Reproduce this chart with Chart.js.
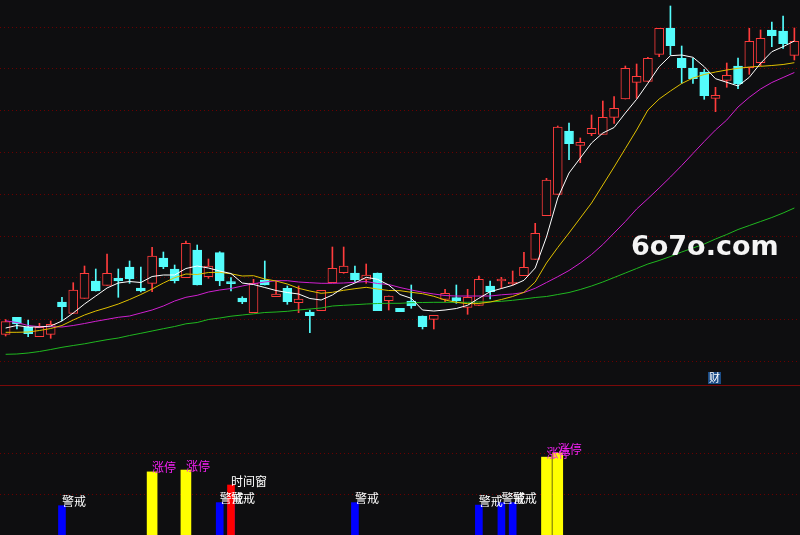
<!DOCTYPE html>
<html>
<head>
<meta charset="utf-8">
<script src="https://cdn.jsdelivr.net/npm/chart.js@4.4.0/dist/chart.umd.min.js"></script>
<style>
  body { margin: 0; background: #0e0e10; }
  #wrap { position: relative; width: 800px; height: 535px; overflow: hidden; }
  #priceChart { position: absolute; left: 0; top: 0; }
  #signalChart { position: absolute; left: 0; top: 385px; }
</style>
</head>
<body>
<div id="wrap">
  <canvas id="priceChart" width="800" height="385"></canvas>
  <canvas id="signalChart" width="800" height="150"></canvas>
</div>
<script>
// Daily candles (price units)
const candleOpen = [
  6.57, 8.27, 7.27, 6.33, 6.57, 9.80, 8.67, 10.17, 11.90, 11.47,
  12.17, 13.30, 11.20, 11.67, 14.20, 13.10, 12.23, 15.00, 12.33, 14.73,
  11.83, 10.20, 8.73, 12.00, 10.33, 11.17, 9.73, 8.80, 8.93, 11.73,
  12.73, 12.70, 12.07, 12.70, 9.93, 9.17, 9.90, 8.40, 8.07, 10.07,
  10.23, 9.27, 9.47, 11.40, 11.90, 11.63, 12.43, 14.07, 18.43, 20.57,
  26.90, 25.47, 26.63, 26.57, 28.27, 30.10, 31.77, 31.87, 34.57, 37.20,
  34.17, 33.20, 32.80, 30.17, 31.97, 33.40, 33.23, 33.73, 37.00, 36.90,
  34.47
];
const candleHigh = [
  8.05, 8.27, 8.00, 7.67, 7.90, 10.27, 11.73, 13.40, 13.10, 14.60,
  13.10, 13.90, 13.30, 15.27, 14.80, 13.50, 15.90, 15.50, 14.10, 14.83,
  12.23, 10.33, 12.07, 13.90, 11.83, 11.40, 11.40, 9.00, 10.97, 15.30,
  15.30, 13.40, 13.60, 12.70, 10.40, 9.17, 11.50, 8.40, 8.47, 11.07,
  11.50, 11.07, 12.40, 11.90, 12.27, 12.90, 14.77, 17.67, 22.17, 27.40,
  27.70, 26.20, 28.50, 29.90, 30.33, 33.40, 33.60, 34.27, 37.17, 39.40,
  35.40, 34.17, 33.07, 31.27, 33.70, 34.20, 37.17, 37.00, 37.80, 38.40,
  37.20
];
const candleLow = [
  6.40, 7.10, 6.33, 6.33, 6.17, 7.93, 8.67, 10.17, 10.90, 11.47,
  10.27, 11.67, 10.80, 10.83, 13.13, 11.70, 12.23, 11.50, 12.17, 11.43,
  10.90, 9.63, 8.73, 11.50, 10.33, 9.57, 8.73, 6.73, 8.93, 11.73,
  12.67, 11.83, 11.67, 8.93, 9.00, 8.83, 9.17, 7.10, 7.10, 9.83,
  9.67, 8.57, 9.47, 10.10, 11.17, 11.50, 12.43, 14.07, 18.43, 20.57,
  24.03, 23.73, 26.43, 26.57, 27.67, 30.10, 30.17, 31.87, 34.33, 34.50,
  31.67, 31.67, 30.07, 28.83, 31.27, 31.13, 32.57, 33.43, 35.33, 35.17,
  34.00
];
const candleClose = [
  7.83, 7.60, 6.63, 7.27, 7.57, 9.33, 11.00, 12.67, 10.90, 12.67,
  11.90, 12.10, 10.90, 14.40, 13.33, 11.93, 15.67, 11.50, 13.40, 11.90,
  11.63, 9.80, 11.67, 11.50, 10.60, 9.83, 10.10, 8.43, 10.97, 13.17,
  13.40, 12.00, 12.50, 8.93, 10.40, 8.83, 9.43, 7.33, 8.47, 10.67,
  9.90, 10.27, 12.07, 10.83, 12.10, 11.77, 13.27, 16.67, 22.00, 27.30,
  25.63, 25.77, 27.17, 28.27, 29.17, 33.17, 32.37, 34.17, 37.17, 35.43,
  33.23, 32.13, 30.43, 30.47, 32.47, 31.63, 35.87, 36.17, 36.43, 35.63,
  35.87
];

// Moving averages as drawn on the picture
const ma5 = [
  7.20, 7.45, 7.30, 7.30, 7.40, 7.90, 8.70, 9.60, 10.40, 11.20,
  11.70, 11.85, 11.75, 12.35, 12.50, 12.50, 13.15, 13.40, 13.20, 12.90,
  12.65, 11.70, 11.55, 11.25, 10.95, 10.75, 10.60, 10.15, 10.00, 10.50,
  11.25, 11.70, 12.27, 12.07, 11.50, 10.55, 10.17, 9.00, 8.90, 9.00,
  9.15, 9.47, 10.17, 10.83, 11.15, 11.47, 11.97, 13.20, 16.30, 20.20,
  22.70, 24.20, 25.70, 26.70, 27.25, 28.70, 30.07, 31.67, 33.33, 34.43,
  34.50, 34.27, 33.33, 32.13, 31.77, 31.40, 32.27, 33.67, 34.83, 35.33,
  35.90
];
const ma10 = [
  6.77, 6.77, 6.80, 6.95, 7.15, 7.45, 8.00, 8.50, 8.90, 9.23,
  9.60, 10.05, 10.55, 11.10, 11.70, 12.23, 12.60, 12.55, 12.75, 12.77,
  12.62, 12.40, 12.43, 12.10, 11.90, 11.60, 11.17, 10.90, 10.67, 10.77,
  10.97, 11.13, 11.27, 11.10, 10.95, 10.93, 10.77, 10.63, 10.37, 10.00,
  9.77, 9.63, 9.65, 9.80, 10.05, 10.35, 10.77, 11.80, 13.70, 15.25,
  16.70, 18.20, 19.70, 21.50, 23.30, 25.15, 27.00, 29.00, 30.10, 30.90,
  31.65, 32.20, 32.55, 32.80, 33.00, 33.17, 33.30, 33.37, 33.45, 33.55,
  33.73
];
const ma20 = [
  7.92, 7.75, 7.45, 7.33, 7.33, 7.30, 7.45, 7.65, 7.87, 8.07,
  8.27, 8.40, 8.70, 9.00, 9.40, 9.90, 10.27, 10.47, 10.80, 11.00,
  11.15, 11.40, 11.63, 11.80, 11.93, 11.93, 11.80, 11.73, 11.67, 11.67,
  11.70, 11.77, 11.85, 11.65, 11.55, 11.25, 11.00, 10.78, 10.60, 10.45,
  10.40, 10.40, 10.40, 10.40, 10.52, 10.60, 10.75, 11.17, 11.75, 12.33,
  12.95, 13.70, 14.55, 15.55, 16.70, 17.85, 19.10, 20.13, 21.20, 22.30,
  23.45, 24.65, 25.85, 27.00, 28.00, 29.30, 30.27, 31.10, 31.75, 32.25,
  32.75
];
const ma60 = [
  4.57, 4.60, 4.70, 4.85, 5.05, 5.27, 5.45, 5.62, 5.83, 6.03,
  6.20, 6.45, 6.67, 6.90, 7.13, 7.35, 7.62, 7.75, 8.05, 8.20,
  8.38, 8.50, 8.62, 8.75, 8.80, 8.87, 9.00, 9.10, 9.20, 9.40,
  9.47, 9.53, 9.60, 9.65, 9.67, 9.67, 9.73, 9.75, 9.77, 9.77,
  9.77, 9.77, 9.80, 9.82, 9.87, 9.97, 10.10, 10.25, 10.35, 10.55,
  10.75, 11.05, 11.40, 11.80, 12.25, 12.70, 13.15, 13.60, 13.95, 14.35,
  14.80, 15.20, 15.60, 16.10, 16.55, 17.05, 17.45, 17.85, 18.25, 18.70,
  19.20
];

// Horizontal grid levels of the two panels
const priceGrid = [3.9, 8.08, 12.26, 16.44, 20.62, 24.8, 28.98, 33.16, 37.34];
const signalGrid = [10, 20];

// Signal bars of the lower panel (candle index + height)
const warnIdx = [5, 19, 20, 31, 42, 44, 45];
const warnVal = [7.15, 7.9, 7.9, 7.9, 7.3, 7.9, 7.9];
const limitIdx = [13, 16, 48, 49];
const limitVal = [15.4, 15.85, 19.0, 20.0];
const windowIdx = [20];
const windowVal = [12.2];

const BG = '#0e0e10';
const UP = '#ff3c3c';
const DOWN = '#54fcfc';
const GRID = '#6a0000';

const days = candleOpen.map((_, i) => String(i + 1));
const isUp = candleOpen.map((o, i) => candleClose[i] >= o);

function sparse(idx, vals) {
  const out = days.map(() => null);
  idx.forEach((d, k) => { out[d] = vals[k]; });
  return out;
}

function gridPlugin(levels) {
  return {
    id: 'dotGrid',
    beforeDatasetsDraw(chart) {
      const ctx = chart.ctx;
      const ys = chart.scales.y;
      ctx.save();
      ctx.strokeStyle = GRID;
      ctx.lineWidth = 1;
      ctx.setLineDash([1, 3]);
      levels.forEach(v => {
        const y = Math.round(ys.getPixelForValue(v)) + 0.5;
        ctx.beginPath();
        ctx.moveTo(0, y);
        ctx.lineTo(chart.width, y);
        ctx.stroke();
      });
      ctx.restore();
    }
  };
}

const overlayPlugin = {
  id: 'overlay',
  afterDraw(chart) {
    const ctx = chart.ctx;
    ctx.save();
    // site watermark
    ctx.fillStyle = '#f4f4f4';
    ctx.font = 'bold 27px "DejaVu Sans"';
    ctx.textBaseline = 'alphabetic';
    ctx.fillText('6o7o.com', 631, 255);
    // small badge
    ctx.fillStyle = '#1b4c86';
    ctx.fillRect(708, 372, 13, 12);
    ctx.fillStyle = '#ffffff';
    ctx.font = '11px "Noto Sans CJK SC"';
    ctx.textAlign = 'center';
    ctx.textBaseline = 'middle';
    ctx.fillText('财', 714.5, 378);
    ctx.restore();
  }
};

const priceChart = new Chart(document.getElementById('priceChart').getContext('2d'), {
  type: 'bar',
  data: {
    labels: days,
    datasets: [
      { type: 'line', data: ma5, borderColor: '#ffffff', borderWidth: 1, pointRadius: 0, tension: 0, order: 0 },
      { type: 'line', data: ma10, borderColor: '#e0c000', borderWidth: 1, pointRadius: 0, tension: 0, order: 0 },
      { type: 'line', data: ma20, borderColor: '#d020d0', borderWidth: 1, pointRadius: 0, tension: 0, order: 0 },
      { type: 'line', data: ma60, borderColor: '#20b820', borderWidth: 1, pointRadius: 0, tension: 0, order: 0 },
      {
        // bodies
        data: candleOpen.map((o, i) => [o, candleClose[i]]),
        backgroundColor: isUp.map(u => u ? BG : DOWN),
        borderColor: isUp.map(u => u ? UP : DOWN),
        borderWidth: 1,
        borderSkipped: false,
        barThickness: 9,
        minBarLength: 1,
        grouped: false,
        order: 1
      },
      {
        // wicks
        data: candleLow.map((l, i) => [l, candleHigh[i]]),
        backgroundColor: isUp.map(u => u ? UP : DOWN),
        borderWidth: 0,
        barThickness: 1,
        grouped: false,
        order: 2
      }
    ]
  },
  options: {
    responsive: false,
    animation: false,
    layout: { padding: 0 },
    plugins: { legend: { display: false }, tooltip: { enabled: false } },
    scales: {
      x: { display: false, offset: true },
      y: { display: false, min: 1.5, max: 40 }
    }
  },
  plugins: [gridPlugin(priceGrid), overlayPlugin]
});

// Text printed next to each signal bar
const signalTexts = [];
warnIdx.forEach((d, k) => signalTexts.push({ index: d, value: warnVal[k], text: '警戒', color: '#ffffff' }));
limitIdx.forEach((d, k) => signalTexts.push({ index: d, value: limitVal[k], text: '涨停', color: '#f020f0' }));
windowIdx.forEach((d, k) => signalTexts.push({ index: d, value: windowVal[k], text: '时间窗', color: '#ffffff' }));
signalTexts.sort((a, b) => a.index - b.index);

const signalTextPlugin = {
  id: 'signalText',
  afterDatasetsDraw(chart) {
    const ctx = chart.ctx;
    const xs = chart.scales.x;
    const ys = chart.scales.y;
    ctx.save();
    // panel separator
    ctx.strokeStyle = '#7a0a0a';
    ctx.lineWidth = 1;
    ctx.beginPath();
    ctx.moveTo(0, 0.5);
    ctx.lineTo(chart.width, 0.5);
    ctx.stroke();
    ctx.font = '12px "Noto Sans CJK SC"';
    ctx.textAlign = 'left';
    ctx.textBaseline = 'bottom';
    signalTexts.forEach(s => {
      ctx.fillStyle = s.color;
      ctx.fillText(s.text, xs.getPixelForValue(s.index), ys.getPixelForValue(s.value) + 2);
    });
    ctx.restore();
  }
};

const signalChart = new Chart(document.getElementById('signalChart').getContext('2d'), {
  type: 'bar',
  data: {
    labels: days,
    datasets: [
      { data: sparse(windowIdx, windowVal), backgroundColor: '#ff0000', barThickness: 7, grouped: false, order: 0 },
      { data: sparse(warnIdx, warnVal), backgroundColor: '#0000ff', barThickness: 7, grouped: false, order: 1 },
      { data: sparse(limitIdx, limitVal), backgroundColor: '#ffff00', barThickness: 10, grouped: false, order: 2 }
    ]
  },
  options: {
    responsive: false,
    animation: false,
    layout: { padding: 0 },
    plugins: { legend: { display: false }, tooltip: { enabled: false } },
    scales: {
      x: { display: false, offset: true },
      y: { display: false, min: 0, max: 36.6 }
    }
  },
  plugins: [gridPlugin(signalGrid), signalTextPlugin]
});
</script>
</body>
</html>
